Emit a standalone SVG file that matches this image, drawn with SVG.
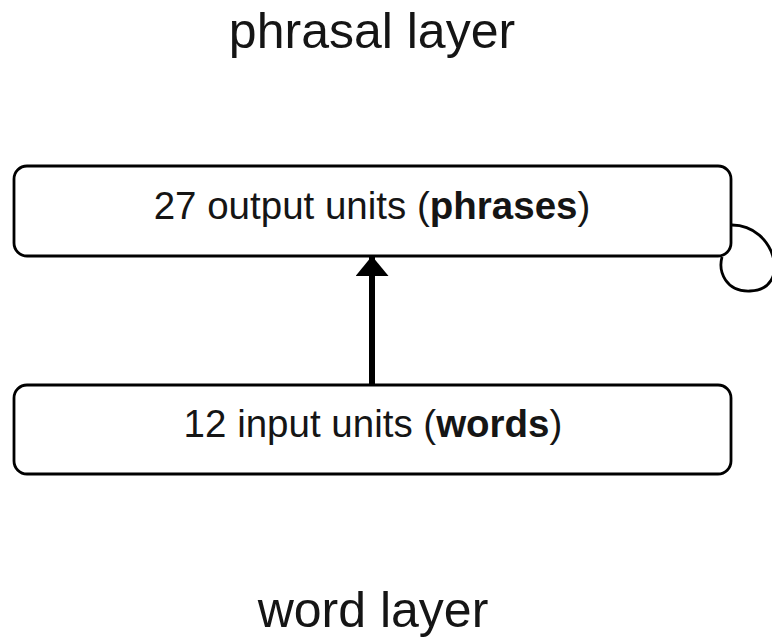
<svg xmlns="http://www.w3.org/2000/svg" width="772" height="641" viewBox="0 0 772 641">
  <style>
    .box { fill: #ffffff; stroke: #000000; stroke-width: 2.8; }
    .layer { font-family: "Liberation Sans", Arial, sans-serif; font-size: 50px; fill: #151515; text-anchor: middle; }
    .label { font-family: "Liberation Sans", Arial, sans-serif; font-size: 38.5px; fill: #151515; text-anchor: middle; }
    .bold { font-weight: bold; }
    .edge { fill: none; stroke: #000000; }
  </style>
  <defs>
    <marker id="head" viewBox="0 0 20 33" refX="20" refY="16.5" markerUnits="userSpaceOnUse" markerWidth="20" markerHeight="33" orient="auto">
      <path d="M0,0 L20,16.5 L0,33 Z" fill="#000000"/>
    </marker>
  </defs>

  <text class="layer" x="372" y="48">phrasal layer</text>
  <text class="layer" x="373" y="627">word layer</text>

  <g id="connectors">
    <!-- feed-forward: words to phrases -->
    <line class="edge" x1="372" y1="384" x2="372" y2="256" stroke-width="6" marker-end="url(#head)"/>
    <!-- recurrent self-loop on the phrase layer -->
    <path class="edge" stroke-width="2.8" d="M732,225 C776,225 792,290 750,291 C726,292 718,272 722,257"/>
  </g>

  <g id="output-units">
    <rect class="box" x="14" y="166" width="717" height="90" rx="13" ry="13"/>
    <text class="label" x="372" y="219">27 output units (<tspan class="bold">phrases</tspan>)</text>
  </g>

  <g id="input-units">
    <rect class="box" x="14" y="385" width="717" height="89" rx="13" ry="13"/>
    <text class="label" x="373" y="437">12 input units (<tspan class="bold">words</tspan>)</text>
  </g>
</svg>
